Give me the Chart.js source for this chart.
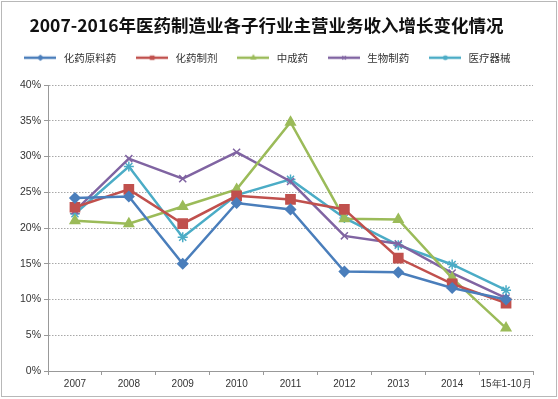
<!DOCTYPE html>
<html>
<head>
<meta charset="utf-8">
<script src="https://cdn.jsdelivr.net/npm/chart.js@4/dist/chart.umd.min.js"></script>
<style>
  html, body { margin: 0; padding: 0; background: #fff; }
  #wrap { position: relative; width: 558px; height: 399px; }
  #frame { position: absolute; left: 1px; top: 1px; width: 554px; height: 394px; border: 1px solid #b8b8b8; pointer-events: none; }
</style>
</head>
<body>
<div id="wrap">
  <canvas id="chart" width="558" height="399"></canvas>
  <div id="frame"></div>
</div>
<script>
// categories and series (growth, %)
const years = ['2007', '2008', '2009', '2010', '2011', '2012', '2013', '2014', '15年1-10月'];
const yTicks = [0, 5, 10, 15, 20, 25, 30, 35, 40];

const apiDrugs = [24.2, 24.4, 15.0, 23.5, 22.6, 13.9, 13.8, 11.6, 10.0];   // 化药原料药
const chemPreps = [22.9, 25.4, 20.6, 24.5, 24.0, 22.6, 15.8, 12.2, 9.5];   // 化药制剂
const tcmDrugs = [21.0, 20.6, 23.0, 25.4, 34.8, 21.3, 21.2, 13.0, 6.0];    // 中成药
const bioDrugs = [22.4, 29.7, 26.9, 30.6, 26.5, 18.9, 17.8, 13.7, 10.2];   // 生物制药
const devices = [22.0, 28.6, 18.7, 24.6, 26.8, 21.4, 17.6, 14.9, 11.3];    // 医疗器械

const series = [
    { name: '化药原料药', data: apiDrugs, color: '#4a7ebb', style: 'rectRot', r: 5 },
    { name: '化药制剂', data: chemPreps, color: '#c0504d', style: 'rect', r: 6.5 },
    { name: '中成药', data: tcmDrugs, color: '#9bbb59', style: 'triangle', r: 5.5 },
    { name: '生物制药', data: bioDrugs, color: '#8064a2', style: 'crossRot', r: 5 },
    { name: '医疗器械', data: devices, color: '#4bacc6', style: 'star', r: 5 }
];

// small line + marker images for the legend
function legendIcon(s) {
    const c = document.createElement('canvas');
    c.width = 32;
    c.height = 10;
    const g = c.getContext('2d');
    g.strokeStyle = s.color;
    g.fillStyle = s.color;
    g.lineWidth = 2.5;
    g.beginPath();
    g.moveTo(0, 5);
    g.lineTo(32, 5);
    g.stroke();
    g.lineWidth = 1.2;
    Chart.helpers.drawPoint(g, { pointStyle: s.style, radius: 2.5, rotation: 0, borderWidth: 1.2 }, 16, 5);
    return c;
}

const ctx = document.getElementById('chart').getContext('2d');

new Chart(ctx, {
    type: 'line',
    data: {
        labels: years,
        datasets: series.map((s) => ({
            label: s.name,
            data: s.data,
            borderColor: s.color,
            backgroundColor: s.color,
            borderWidth: 2.5,
            tension: 0,
            pointStyle: s.style,
            pointRadius: s.r,
            pointBorderWidth: 1.5,
            pointBorderColor: s.color,
            pointBackgroundColor: s.color,
            legendIcon: legendIcon(s)
        }))
    },
    options: {
        responsive: false,
        animation: false,
        layout: { padding: { left: 0, right: 25, top: 0, bottom: 6 } },
        plugins: {
            title: {
                display: true,
                text: '2007-2016年医药制造业各子行业主营业务收入增长变化情况',
                color: '#111',
                font: { family: '"Noto Sans CJK SC", "Noto Sans", sans-serif', size: 17.5, weight: 'bold', lineHeight: 1 },
                padding: { top: 17, bottom: 0 }
            },
            legend: {
                weight: 1800,
                labels: {
                    usePointStyle: true,
                    pointStyleWidth: 36,
                    padding: 18,
                    color: '#333',
                    font: { family: '"Noto Sans CJK SC", sans-serif', size: 10.5 },
                    generateLabels: (chart) => chart.data.datasets.map((d, i) => ({
                        text: d.label,
                        fillStyle: d.borderColor,
                        strokeStyle: d.borderColor,
                        fontColor: '#333',
                        lineWidth: 0,
                        pointStyle: d.legendIcon,
                        hidden: false,
                        datasetIndex: i
                    }))
                }
            },
            subtitle: {
                display: true,
                text: '',
                font: { size: 4, lineHeight: 1 },
                padding: { top: 0, bottom: 8 }
            },
            tooltip: { enabled: false }
        },
        scales: {
            x: {
                offset: true,
                grid: {
                    offset: true,
                    drawOnChartArea: false,
                    drawTicks: true,
                    tickLength: 4,
                    color: '#999'
                },
                border: { color: '#999', width: 1 },
                ticks: {
                    padding: 3,
                    autoSkip: false,
                    maxRotation: 0,
                    minRotation: 0,
                    color: '#333',
                    font: { family: '"Liberation Sans", Arial, sans-serif', size: 10 }
                }
            },
            y: {
                min: 0,
                max: 40,
                afterBuildTicks: (scale) => {
                    scale.ticks = yTicks.map((v) => ({ value: v }));
                },
                afterFit: (scale) => {
                    scale.width = 48;
                },
                grid: {
                    color: '#a8a8a8',
                    lineWidth: 1,
                    tickLength: 4,
                    tickColor: '#999'
                },
                border: { color: '#999', width: 1, dash: [1.5, 1.5] },
                ticks: {
                    padding: 3,
                    color: '#333',
                    font: { family: '"Liberation Sans", Arial, sans-serif', size: 10.5 },
                    callback: (v) => v + '%'
                }
            }
        }
    }
});
</script>
</body>
</html>
